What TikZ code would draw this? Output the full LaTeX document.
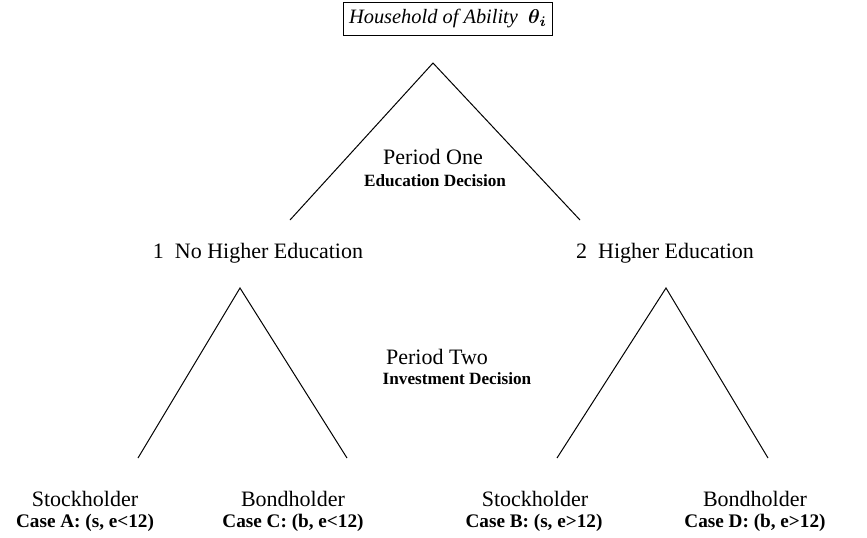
\documentclass[tikz,border=0pt]{standalone}
\usepackage{amsmath}
\usepackage{amssymb}
\usepackage{fontspec}
\setmainfont{Liberation Serif}
\usepackage{tikz}

\begin{document}
\begin{tikzpicture}[x=0.5pt,y=-0.5pt,
    txt/.style={font=\fontsize{11}{13}\selectfont, inner sep=0pt, anchor=base},
    bld/.style={font=\fontsize{8.6}{10}\selectfont\bfseries, inner sep=0pt, anchor=base},
    cse/.style={font=\fontsize{9.6}{11}\selectfont\bfseries, inner sep=0pt, anchor=base},
    branch/.style={line width=0.5pt}]
    \useasboundingbox (0,0) rectangle (867,537);
    % root
    \node[draw, line width=0.5pt, font=\fontsize{10.2}{12}\selectfont,
          inner xsep=3pt, minimum height=16.5pt] (root) at (448,18.5)
          {\textit{Household of Ability}\ \ $\boldsymbol{\theta_i}$};
    % period one
    \coordinate (top) at (433,63);
    \coordinate (nolow) at (290,220);
    \coordinate (helow) at (580,220);
    \draw[branch] (nolow) -- (top) -- (helow);
    \node[txt] (per1) at (433,164) {Period One};
    \node[bld] (dec1) at (435,186.5) {Education Decision};
    \node[txt] (noed) at (258,258) {1\ \ No Higher Education};
    \node[txt] (hied) at (665,258) {2\ \ Higher Education};
    % period two
    \coordinate (notop) at (240,288);
    \coordinate (hetop) at (666,288);
    \coordinate (aend) at (138,458);
    \coordinate (cend) at (347,458);
    \coordinate (bend) at (557,458);
    \coordinate (dend) at (768,458);
    \draw[branch] (aend) -- (notop) -- (cend);
    \draw[branch] (bend) -- (hetop) -- (dend);
    \node[txt] (per2) at (437,364) {Period Two};
    \node[bld] (dec2) at (457,384.5) {Investment Decision};
    % cases
    \node[txt] (stA) at (85,506) {Stockholder};
    \node[cse] (csA) at (85,527) {Case A: (s, e<12)};
    \node[txt] (bdC) at (293,506) {Bondholder};
    \node[cse] (csC) at (293,527) {Case C: (b, e<12)};
    \node[txt] (stB) at (535,506) {Stockholder};
    \node[cse] (csB) at (534,527) {Case B: (s, e>12)};
    \node[txt] (bdD) at (755,506) {Bondholder};
    \node[cse] (csD) at (755,527) {Case D: (b, e>12)};
\end{tikzpicture}
\end{document}
